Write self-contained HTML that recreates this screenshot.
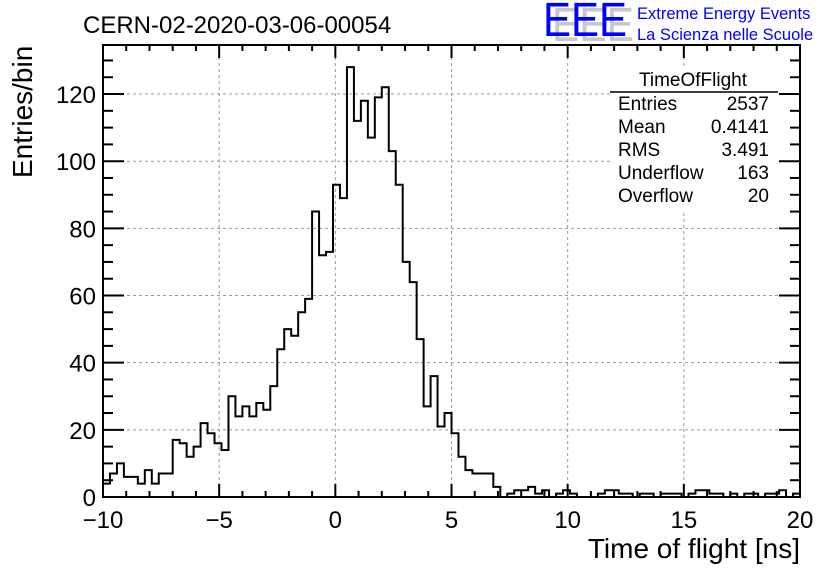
<!DOCTYPE html>
<html><head><meta charset="utf-8"><style>
body{margin:0;background:#fff}
svg text{font-family:"Liberation Sans",sans-serif}
</style></head><body>
<svg id="c" width="836" height="572" viewBox="0 0 836 572">
<rect width="836" height="572" fill="#fff"/>
<text x="83" y="33" font-size="24">CERN-02-2020-03-06-00054</text>
<g>
<text x="552" y="41" font-size="48" fill="#c8c8c8" textLength="82" lengthAdjust="spacingAndGlyphs">EEE</text>
<text x="543" y="36" font-size="48" fill="#0000ff" textLength="84" lengthAdjust="spacingAndGlyphs">EEE</text>
<text x="637" y="19" font-size="16.5" fill="#0000ff">Extreme Energy Events</text>
<text x="637" y="40" font-size="16.5" fill="#0000ff">La Scienza nelle Scuole</text>
</g>
<g id="grid"></g>
<path id="hist" fill="none" stroke="#000" stroke-width="2"/>
<rect x="103" y="45" width="697" height="452" fill="none" stroke="#000" stroke-width="2"/>
<g id="ticks"></g>
<g font-size="19">
<rect x="610" y="68" width="168" height="142" fill="#fff"/>
<text x="693" y="86" text-anchor="middle">TimeOfFlight</text>
<line x1="610" y1="92" x2="778" y2="92" stroke="#000" stroke-width="1.5"/>
<text x="618" y="110">Entries</text><text x="769" y="110" text-anchor="end">2537</text>
<text x="618" y="133">Mean</text><text x="769" y="133" text-anchor="end">0.4141</text>
<text x="618" y="156">RMS</text><text x="769" y="156" text-anchor="end">3.491</text>
<text x="618" y="179">Underflow</text><text x="769" y="179" text-anchor="end">163</text>
<text x="618" y="202">Overflow</text><text x="769" y="202" text-anchor="end">20</text>
</g>
<text x="800" y="558" font-size="28" text-anchor="end">Time of flight [ns]</text>
<text transform="translate(32,178) rotate(-90)" font-size="28">Entries/bin</text>
</svg>
<script>
const counts=[4,7,10,6,6,4,8,4,7,7,17,16,12,15,22,19,16,14,30,24,27,24,28,26,33,44,50,48,55,59,85,72,73,93,89,128,112,118,107,119,122,103,93,70,64,47,27,36,21,25,19,12,8,7,7,7,3,0,1,2,2,3,1,2,0,1,2,1,0,0,0,1,2,2,1,1,0,1,1,0,1,1,1,0,1,2,2,1,1,0,1,0,1,1,0,1,1,2,0,1];
const xTicks=[-10,-5,0,5,10,15,20];
const yTicks=[0,20,40,60,80,100,120];
const xMin=-10,xMax=20,yMax=134.6;
const L=103,R=800,T=45,B=497;
function X(v){return L+(v-xMin)/(xMax-xMin)*(R-L);}
function Y(v){return B-v/yMax*(B-T);}
const NS="http://www.w3.org/2000/svg";
const svg=document.getElementById('c');
const grid=document.getElementById('grid'),ticks=document.getElementById('ticks');
function ln(p,x1,y1,x2,y2,st,w,dash){const l=document.createElementNS(NS,'line');l.setAttribute('x1',x1);l.setAttribute('y1',y1);l.setAttribute('x2',x2);l.setAttribute('y2',y2);l.setAttribute('stroke',st);l.setAttribute('stroke-width',w);if(dash)l.setAttribute('stroke-dasharray',dash);p.appendChild(l);return l;}
function tx(x,y,s,anchor){const t=document.createElementNS(NS,'text');t.setAttribute('x',x);t.setAttribute('y',y);t.setAttribute('font-size','24');t.setAttribute('text-anchor',anchor);t.textContent=s;svg.appendChild(t);return t;}
xTicks.forEach(v=>{const x=X(v);
 if(v>xMin&&v<xMax){const g=ln(grid,x,T,x,B,'#999',1,'3,3');
 
 }
 ln(ticks,x,B,x,B-13,'#000',2);ln(ticks,x,T,x,T+13,'#000',2);
 const t=tx(x,528,(v<0?'\u2212'+(-v):String(v)),'middle');
 
 });
for(let v=xMin+1;v<xMax;v++){if(v%5){ln(ticks,X(v),B,X(v),B-6,'#000',2);ln(ticks,X(v),T,X(v),T+6,'#000',2);}}
yTicks.forEach(v=>{const y=Y(v);
 if(v>0){const g=ln(grid,L,y,R,y,'#999',1,'3,3');
 
 }
 ln(ticks,L,y,L+21,y,'#000',2);ln(ticks,R,y,R-21,y,'#000',2);
 const t=tx(96,y+9,String(v),'end');
 
 });
for(let v=5;v<yMax;v+=5){if(v%20){ln(ticks,L,Y(v),L+10,Y(v),'#000',2);ln(ticks,R,Y(v),R-10,Y(v),'#000',2);}}
const bw=(xMax-xMin)/counts.length;
let d='M'+X(xMin)+','+Y(counts[0]);
counts.forEach((c,i)=>{const x0=X(xMin+i*bw),x1=X(xMin+(i+1)*bw);d+=' L'+x0+','+Y(c)+' L'+x1+','+Y(c);});
document.getElementById('hist').setAttribute('d',d);
</script>
</body></html>
